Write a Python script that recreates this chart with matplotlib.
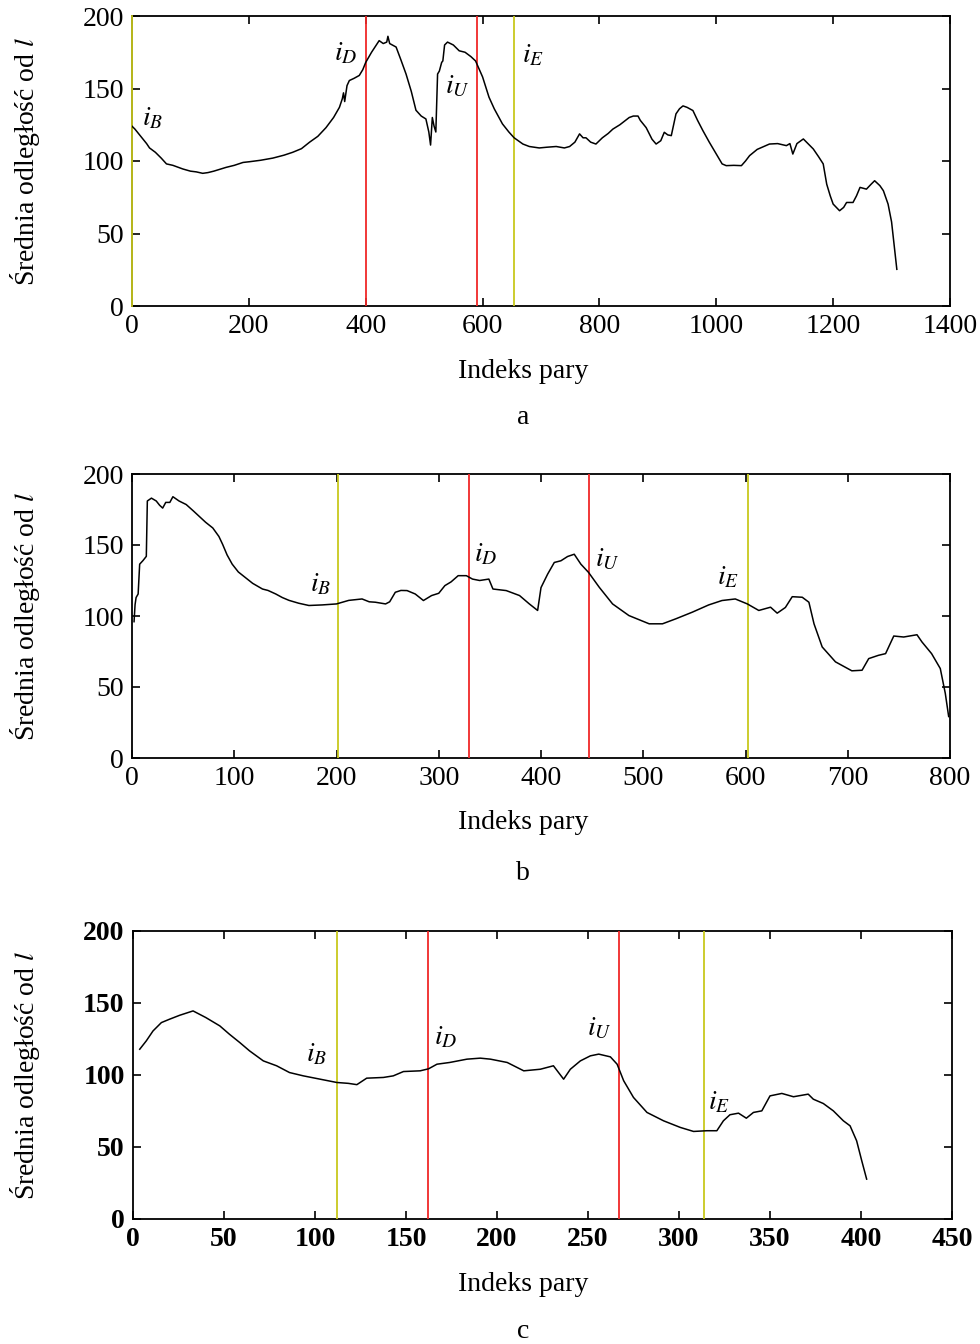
import matplotlib
matplotlib.use("Agg")
import matplotlib.pyplot as plt

plt.rcParams['font.family'] = ['Liberation Serif', 'DejaVu Serif']
plt.rcParams['mathtext.fontset'] = 'stix'

# ---------------- Data ----------------
a_x = [0, 5, 15, 25, 30, 40, 50, 59, 70, 87, 100, 110, 121, 130, 140, 161, 175, 190, 201, 220,
       241, 260, 275, 290, 304, 318, 332, 345, 355, 360, 362, 364, 368, 372, 380, 389, 395, 400,
       410, 423, 430, 436, 438, 441, 452, 460, 469, 478, 486, 495, 503, 508, 511, 514, 517, 520,
       523, 526, 530, 532, 535, 540, 550, 560, 570, 580, 588, 600, 611, 620, 634, 645, 654, 669,
       680, 697, 710, 726, 740, 749, 758, 766, 772, 777, 785, 794, 805, 815, 823, 835, 851, 858,
       866, 870, 880, 890, 897, 905, 911, 917, 923, 931, 937, 943, 950, 960, 968, 977, 988, 1000,
       1010, 1017, 1030, 1043, 1050, 1057, 1070, 1091, 1105, 1120, 1126, 1131, 1138, 1149, 1157,
       1166, 1175, 1183, 1189, 1195, 1200, 1211, 1218, 1223, 1234, 1240, 1246, 1257, 1265, 1271,
       1280, 1286, 1294, 1300, 1303, 1309]
a_y = [124, 122, 117, 112, 109, 106, 102, 98, 97, 94.5, 93, 92.5, 91.5, 92, 93, 95.6, 97, 99, 99.5,
       100.5, 102, 104, 106, 108.5, 113, 117, 123, 130, 137, 143, 147, 141, 152, 155.5, 157, 159,
       163, 168, 175, 183, 181, 182, 186, 181, 178.6, 170, 160, 148, 135, 131, 129, 120, 111, 130,
       124, 120, 160, 162, 168, 169, 180, 182, 180, 176, 175, 172, 169, 158, 144, 136, 125.6, 120,
       116, 111.7, 110, 109, 109.5, 110, 109, 110, 113, 118.7, 116, 116, 113, 111.7, 116, 119, 122,
       125, 130, 131, 131, 128, 123, 115, 111.7, 114, 119.8, 118, 117.5, 132.5, 136, 138, 137,
       134.8, 128, 121, 113, 104.8, 98, 96.8, 97, 96.8, 100, 103.7, 108, 111.7, 112, 110.6, 112,
       104.8, 112, 115.2, 112, 108.3, 103, 98, 84, 76, 70.3, 65.7, 68, 71.4, 71.4, 76, 81.8, 80.6,
       84, 86.4, 83, 79.5, 70.3, 58, 47.2, 25.3]

b_x = [2, 3, 4, 6, 7.5, 10.7, 14, 15, 19, 23.7, 27, 30, 33, 37, 40, 46, 53, 60, 66, 72, 79, 85,
       88.6, 93, 98, 104, 111, 118, 127.6, 133, 140.6, 147, 153.6, 163, 173, 186, 200, 212, 225,
       232, 238, 248, 252, 257.5, 263, 269, 277, 285, 293, 300, 306, 312, 319, 327, 333, 340, 349,
       353, 366, 379, 388.6, 396.7, 400, 406.5, 413, 419.5, 426, 432.5, 439, 446.5, 457, 470, 486,
       505.8, 518.8, 531.8, 548, 564, 577, 590, 601.8, 613, 624.5, 631, 639, 645.7, 655.5, 662,
       667, 675, 688, 704, 714, 720.5, 730, 737, 745, 754.7, 767.7, 772.6, 782, 790.5, 795.4, 798.7]
b_y = [96, 108, 113, 115.5, 136.5, 139, 142, 181, 183, 181, 178, 176, 180, 180, 184, 181, 178.5,
       174, 170, 166, 162, 156, 150.5, 143, 136.5, 131, 127, 123, 119, 118, 115.5, 113, 111, 109,
       107.4, 107.8, 108.5, 111, 112, 110, 109.7, 108.5, 110, 116.7, 118, 117.9, 115.5, 110.9,
       114.4, 116, 121.4, 124, 128.4, 128.4, 126, 125, 126, 119, 117.9, 114.4, 108.5, 103.9, 120,
       129.5, 137.7, 138.9, 141.9, 143.5, 136.5, 130.7, 120.2, 108.5, 100.3, 94.5, 94.5, 98, 102.7,
       107.8, 110.9, 112, 108.5, 103.9, 106.2, 102, 106, 113.6, 113.2, 109.7, 94.5, 78.2, 67.7,
       61.4, 61.8, 70, 72.3, 73.5, 85.9, 85.2, 86.8, 81.7, 73.5, 63, 45.5, 29.2]

c_x = [3.7, 7.3, 11, 15.6, 20, 25.7, 33, 40, 47.7, 53, 58.7, 64, 71.6, 78.9, 86, 93.6, 102.8, 112,
       118.3, 123, 128.4, 137.6, 143, 148.6, 157.8, 162.4, 167, 174, 183.5, 190.8, 196.4, 205.6,
       214.7, 223.8, 231, 236.6, 240.3, 245.8, 251.3, 255.9, 262.3, 266, 269.6, 275, 282.4, 291.5,
       300.7, 308, 315.3, 320.8, 324.4, 328, 332.7, 337, 340.9, 345.5, 350, 356.5, 362.9, 371,
       373.8, 379.3, 384.8, 390.3, 394, 397.6, 400.4, 403.1]
c_y = [117.9, 123.7, 130.6, 136.4, 138.7, 141.5, 144.5, 139.9, 134.1, 128.3, 122.5, 116.8, 109.8,
       106.4, 101.7, 99.4, 97.1, 94.8, 94.2, 93.3, 97.8, 98.3, 99.4, 102.4, 102.9, 104.3, 107.5,
       108.7, 111, 111.7, 111, 108.7, 102.9, 104, 106.4, 97.1, 104, 109.8, 113.3, 114.5, 112.6,
       107.5, 96, 84.4, 74, 68.2, 63.6, 60.8, 61.3, 61.3, 68.2, 72.4, 73.5, 70, 74, 75.1, 85.5,
       87.2, 84.9, 86.7, 83.2, 80.2, 75.1, 68.2, 64.7, 54.3, 40.5, 27.7]

# marker indices: iB, iD, iU, iE
a_marks = [0, 400, 590, 654]
b_marks = [201, 330, 447, 602]
c_marks = [112, 162, 267, 314]
mark_names = ['B', 'D', 'U', 'E']
mark_colors = ['#c8c81e', '#f02828', '#f02828', '#c8c81e']

# label anchor positions (data coords, centre)
a_lab = [(36, 129), (366, 174), (557, 151), (686, 173)]
b_lab = [(184, 122), (346, 143), (465, 140), (583, 127)]
c_lab = [(101, 114), (172, 126), (256, 132), (322, 81)]

a_xticks = [0, 200, 400, 600, 800, 1000, 1200, 1400]
b_xticks = [0, 100, 200, 300, 400, 500, 600, 700, 800]
c_xticks = [0, 50, 100, 150, 200, 250, 300, 350, 400, 450]
yticks = [0, 50, 100, 150, 200]

panels = [
    dict(x=a_x, y=a_y, marks=a_marks, lab=a_lab, xt=a_xticks, xlim=1400, cap='a', capy=418,
         pos=[132/980, 1-306/1344, 818/980, 290/1344], bold=False),
    dict(x=b_x, y=b_y, marks=b_marks, lab=b_lab, xt=b_xticks, xlim=800, cap='b', capy=874,
         pos=[132/980, 1-758/1344, 818/980, 284/1344], bold=False),
    dict(x=c_x, y=c_y, marks=c_marks, lab=c_lab, xt=c_xticks, xlim=450, cap='c', capy=1332,
         pos=[133/980, 1-1219/1344, 819/980, 288/1344], bold=True),
]

fig = plt.figure(figsize=(9.8, 13.44), dpi=100)

for p in panels:
    ax = fig.add_axes(p['pos'])
    ax.plot(p['x'], p['y'], color='black', lw=1.1, zorder=4)
    for m, col in zip(p['marks'], mark_colors):
        ax.axvline(m, color=col, lw=1.3, zorder=3, clip_on=(m != 0))
    for (lx, ly), nm in zip(p['lab'], mark_names):
        ax.text(lx, ly, r'$i_{%s}$' % nm, fontsize=20, ha='center', va='center', zorder=5)
    ax.set_xlim(0, p['xlim'])
    ax.set_ylim(0, 200)
    ax.set_xticks(p['xt'])
    ax.set_yticks(yticks)
    ax.tick_params(direction='in', top=True, right=True, length=6, width=1.2,
                   labelsize=20, pad=6)
    if p['bold']:
        for lbl in ax.get_xticklabels() + ax.get_yticklabels():
            lbl.set_fontweight('bold')
    for s in ax.spines.values():
        s.set_linewidth(1.3)
    ax.set_xlabel('Indeks pary', fontsize=20)
    ax.set_ylabel(r'Średnia odległość od $l$', fontsize=20)
    x0 = p['pos'][0] * 980
    w = p['pos'][2] * 980
    top = 1344 - (p['pos'][1] + p['pos'][3]) * 1344
    h = p['pos'][3] * 1344
    bot = top + h
    ax.xaxis.set_label_coords((523 - x0) / w, -(372 - 306) / 290)
    ax.yaxis.set_label_coords((25 - x0) / w, 0.5)
    ax.xaxis.label.set_va('center')
    ax.yaxis.label.set_va('center')
    # caption
    fig.text(523/980, 1 - p['capy']/1344, p['cap'], fontsize=20, ha='center', va='center')

fig.savefig('out.png', dpi=100)
